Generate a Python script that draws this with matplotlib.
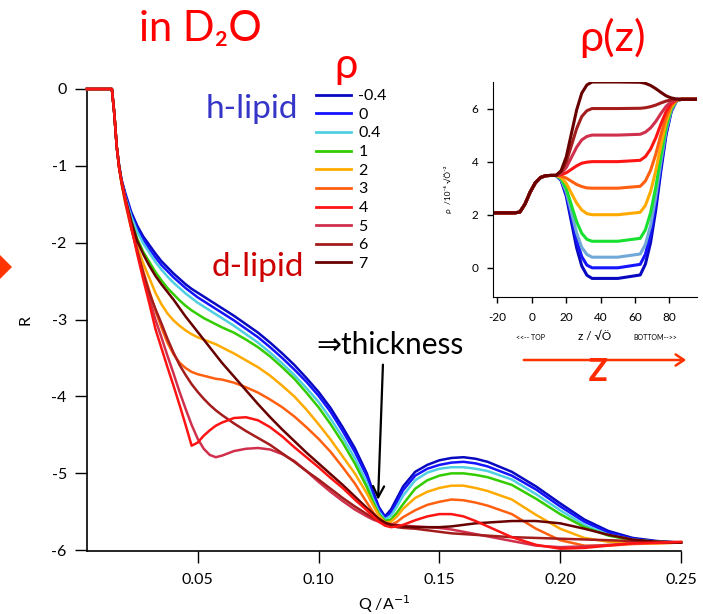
import matplotlib
matplotlib.use('Agg')
import matplotlib.pyplot as plt
from matplotlib.patches import FancyArrowPatch, Polygon

plt.rcParams['font.family'] = ['Lato', 'DejaVu Sans']
plt.rcParams['axes.unicode_minus'] = False

# ---- main panel: log10 reflectivity vs Q ----
q = [0.0042, 0.0145, 0.0155, 0.0165, 0.0175, 0.0185, 0.020, 0.0225,
     0.025, 0.0275, 0.030, 0.0325, 0.035, 0.0375, 0.040, 0.0425,
     0.045, 0.0475, 0.050, 0.0525, 0.055, 0.0575, 0.060, 0.065,
     0.070, 0.075, 0.080, 0.085, 0.090, 0.095, 0.100, 0.105,
     0.110, 0.115, 0.120, 0.1225, 0.125, 0.1275, 0.130, 0.1325,
     0.135, 0.140, 0.145, 0.150, 0.155, 0.160, 0.165, 0.170,
     0.180, 0.190, 0.200, 0.210, 0.220, 0.230, 0.240, 0.250]

r_m04 = [0, 0, -0.32, -0.75, -1.00, -1.18, -1.35, -1.60,
         -1.78, -1.92, -2.03, -2.14, -2.24, -2.32, -2.40, -2.47,
         -2.54, -2.60, -2.65, -2.70, -2.75, -2.80, -2.85, -2.95,
         -3.06, -3.17, -3.30, -3.44, -3.59, -3.76, -3.94, -4.15,
         -4.40, -4.67, -5.00, -5.23, -5.44, -5.56, -5.47, -5.32,
         -5.17, -4.98, -4.89, -4.83, -4.80, -4.79, -4.81, -4.85,
         -4.98, -5.17, -5.39, -5.60, -5.75, -5.84, -5.88, -5.90]
r_0 = [0, 0, -0.32, -0.75, -1.00, -1.19, -1.37, -1.63,
       -1.82, -1.96, -2.08, -2.19, -2.29, -2.37, -2.45, -2.52,
       -2.59, -2.65, -2.71, -2.76, -2.81, -2.86, -2.91, -3.01,
       -3.12, -3.23, -3.36, -3.50, -3.65, -3.81, -3.99, -4.20,
       -4.45, -4.72, -5.04, -5.26, -5.46, -5.58, -5.51, -5.37,
       -5.22, -5.03, -4.94, -4.89, -4.86, -4.85, -4.87, -4.91,
       -5.03, -5.21, -5.43, -5.63, -5.77, -5.85, -5.89, -5.90]
r_04 = [0, 0, -0.32, -0.75, -1.01, -1.20, -1.40, -1.66,
        -1.86, -2.01, -2.13, -2.25, -2.35, -2.44, -2.52, -2.59,
        -2.66, -2.72, -2.78, -2.83, -2.88, -2.93, -2.98, -3.08,
        -3.19, -3.30, -3.43, -3.57, -3.72, -3.89, -4.07, -4.29,
        -4.53, -4.80, -5.12, -5.33, -5.50, -5.60, -5.55, -5.43,
        -5.29, -5.09, -4.99, -4.94, -4.92, -4.92, -4.94, -4.97,
        -5.08, -5.27, -5.48, -5.67, -5.80, -5.86, -5.89, -5.90]
r_1 = [0, 0, -0.32, -0.75, -1.02, -1.22, -1.43, -1.72,
       -1.95, -2.12, -2.25, -2.38, -2.49, -2.59, -2.67, -2.75,
       -2.82, -2.88, -2.93, -2.98, -3.02, -3.06, -3.10, -3.17,
       -3.26, -3.36, -3.48, -3.62, -3.77, -3.95, -4.14, -4.36,
       -4.60, -4.87, -5.18, -5.37, -5.53, -5.62, -5.60, -5.51,
       -5.40, -5.20, -5.09, -5.03, -5.00, -5.00, -5.02, -5.05,
       -5.15, -5.33, -5.53, -5.70, -5.81, -5.87, -5.89, -5.90]
r_2 = [0, 0, -0.32, -0.75, -1.02, -1.23, -1.46, -1.80,
       -2.05, -2.27, -2.46, -2.65, -2.80, -2.92, -3.01, -3.08,
       -3.14, -3.19, -3.23, -3.26, -3.29, -3.32, -3.36, -3.44,
       -3.53, -3.62, -3.73, -3.86, -4.00, -4.17, -4.36, -4.56,
       -4.78, -5.00, -5.26, -5.41, -5.55, -5.64, -5.63, -5.56,
       -5.46, -5.32, -5.24, -5.19, -5.16, -5.16, -5.19, -5.23,
       -5.34, -5.54, -5.72, -5.84, -5.89, -5.91, -5.91, -5.90]
r_3 = [0, 0, -0.32, -0.75, -1.02, -1.23, -1.48, -1.82,
       -2.10, -2.37, -2.63, -2.88, -3.10, -3.30, -3.45, -3.56,
       -3.63, -3.68, -3.71, -3.73, -3.75, -3.77, -3.78, -3.82,
       -3.88, -3.95, -4.04, -4.14, -4.26, -4.40, -4.55, -4.72,
       -4.92, -5.13, -5.38, -5.50, -5.61, -5.67, -5.67, -5.63,
       -5.57, -5.48, -5.41, -5.37, -5.34, -5.35, -5.38, -5.42,
       -5.53, -5.72, -5.87, -5.94, -5.94, -5.92, -5.91, -5.90]
r_4 = [0, 0, -0.32, -0.75, -1.03, -1.20, -1.43, -1.79,
       -2.15, -2.48, -2.79, -3.12, -3.37, -3.62, -3.86, -4.11,
       -4.37, -4.64, -4.60, -4.51, -4.44, -4.38, -4.34, -4.28,
       -4.27, -4.31, -4.40, -4.52, -4.66, -4.79, -4.92, -5.06,
       -5.19, -5.34, -5.48, -5.56, -5.63, -5.68, -5.70, -5.69,
       -5.67, -5.61, -5.56, -5.53, -5.53, -5.56, -5.62, -5.69,
       -5.83, -5.93, -5.98, -5.97, -5.94, -5.91, -5.90, -5.89]
r_5 = [0, 0, -0.32, -0.75, -1.03, -1.20, -1.42, -1.76,
       -2.10, -2.42, -2.72, -3.00, -3.23, -3.47, -3.70, -3.94,
       -4.16, -4.37, -4.55, -4.68, -4.76, -4.79, -4.77, -4.71,
       -4.68, -4.67, -4.69, -4.75, -4.84, -4.97, -5.11, -5.24,
       -5.36, -5.47, -5.56, -5.60, -5.63, -5.65, -5.66, -5.67,
       -5.68, -5.69, -5.70, -5.71, -5.73, -5.76, -5.79, -5.82,
       -5.88, -5.94, -5.96, -5.95, -5.93, -5.91, -5.90, -5.90]
r_6 = [0, 0, -0.32, -0.75, -1.02, -1.21, -1.45, -1.80,
       -2.12, -2.40, -2.65, -2.86, -3.05, -3.25, -3.43, -3.59,
       -3.72, -3.84, -3.94, -4.03, -4.11, -4.18, -4.24, -4.35,
       -4.45, -4.54, -4.63, -4.74, -4.85, -4.97, -5.08, -5.20,
       -5.32, -5.43, -5.53, -5.58, -5.62, -5.66, -5.68, -5.70,
       -5.71, -5.72, -5.74, -5.76, -5.78, -5.79, -5.80, -5.81,
       -5.83, -5.84, -5.85, -5.86, -5.87, -5.88, -5.89, -5.90]
r_7 = [0, 0, -0.32, -0.75, -1.01, -1.20, -1.42, -1.72,
       -1.98, -2.15, -2.30, -2.43, -2.54, -2.64, -2.74, -2.85,
       -2.96, -3.06, -3.16, -3.26, -3.36, -3.46, -3.56, -3.74,
       -3.92, -4.10, -4.27, -4.43, -4.58, -4.73, -4.87, -5.01,
       -5.15, -5.30, -5.45, -5.52, -5.59, -5.64, -5.67, -5.68,
       -5.69, -5.70, -5.70, -5.70, -5.69, -5.67, -5.65, -5.64,
       -5.62, -5.62, -5.65, -5.72, -5.80, -5.86, -5.89, -5.90]

rho_labels = ['-0.4', '0', '0.4', '1', '2', '3', '4', '5', '6', '7']
main_curves = [r_m04, r_0, r_04, r_1, r_2, r_3, r_4, r_5, r_6, r_7]
main_colors = ['#0808c0', '#1414ff', '#50cfe0', '#33cc00', '#ffaa00',
               '#ff6010', '#ff1414', '#d0304c', '#a41c1c', '#680000']
inset_colors = ['#0808c0', '#1414ff', '#70a8d8', '#18e030', '#ffaa00',
                '#ff6010', '#ff1414', '#d0304c', '#a41c1c', '#680000']

# ---- inset: SLD profiles rho(z) ----
z = [-22.6, -10, -7, -4, -1, 2, 5, 8, 11, 14,
     17, 20, 23, 26, 29, 32, 35, 50,
     63, 66, 69, 72, 75, 78, 81, 84, 87, 96]
base = [2.07, 2.07, 2.10, 2.40, 2.85, 3.20, 3.40, 3.47, 3.48, 3.48]
p_m04 = base + [3.29, 2.70, 1.73, 0.76, 0.07, -0.28, -0.40, -0.40,
                -0.27, 0.14, 0.95, 2.17, 3.65, 5.00, 5.88, 6.28, 6.35, 6.35]
p_0 = base + [3.31, 2.78, 1.91, 1.04, 0.42, 0.10, 0.00, 0.00,
              0.13, 0.51, 1.27, 2.41, 3.81, 5.08, 5.91, 6.29, 6.35, 6.35]
p_04 = base + [3.33, 2.86, 2.09, 1.32, 0.77, 0.50, 0.40, 0.40,
               0.52, 0.88, 1.59, 2.66, 3.97, 5.16, 5.93, 6.29, 6.35, 6.35]
p_1 = base + [3.36, 2.98, 2.36, 1.74, 1.30, 1.07, 1.00, 1.00,
              1.11, 1.43, 2.07, 3.03, 4.21, 5.28, 5.98, 6.30, 6.35, 6.35]
p_2 = base + [3.41, 3.18, 2.81, 2.44, 2.18, 2.04, 2.00, 2.00,
              2.09, 2.35, 2.87, 3.65, 4.61, 5.48, 6.05, 6.31, 6.35, 6.35]
p_3 = base + [3.46, 3.38, 3.26, 3.14, 3.06, 3.01, 3.00, 3.00,
              3.07, 3.27, 3.67, 4.27, 5.01, 5.68, 6.12, 6.32, 6.35, 6.35]
p_4 = base + [3.51, 3.58, 3.71, 3.84, 3.94, 3.98, 4.00, 4.00,
              4.05, 4.19, 4.47, 4.89, 5.41, 5.88, 6.19, 6.33, 6.35, 6.35]
p_5 = base + [3.56, 3.78, 4.16, 4.54, 4.82, 4.95, 5.00, 5.00,
              5.03, 5.11, 5.27, 5.51, 5.81, 6.08, 6.26, 6.34, 6.35, 6.35]
p_6 = base + [3.61, 3.98, 4.61, 5.24, 5.70, 5.92, 6.00, 6.00,
              6.01, 6.03, 6.07, 6.13, 6.21, 6.28, 6.33, 6.35, 6.35, 6.35]
p_7 = base + [3.66, 4.18, 5.06, 5.94, 6.58, 6.89, 7.00, 7.00,
              6.99, 6.95, 6.87, 6.75, 6.61, 6.48, 6.40, 6.36, 6.35, 6.35]
profiles = [p_m04, p_0, p_04, p_1, p_2, p_3, p_4, p_5, p_6, p_7]

W, H = 703, 614


def fx(px):
    return px / W


def fy(py):
    return 1 - py / H


fig = plt.figure(figsize=(W / 100, H / 100), dpi=100)

# main axes
ax = fig.add_axes([fx(87), fy(551), (681 - 87) / W, (551 - 89) / H])
lines = []
for r, c, lab in zip(main_curves, main_colors, rho_labels):
    zo = 5 if lab == '4' else 3
    ln, = ax.plot(q, r, color=c, lw=1.8, label=lab, zorder=zo,
                  clip_on=False, solid_joinstyle='round')
    lines.append(ln)

ax.set_xlim(0.0042, 0.25)
ax.set_ylim(-6.01, 0)
ax.set_xticks([0.05, 0.10, 0.15, 0.20, 0.25])
ax.set_xticklabels(['0.05', '0.10', '0.15', '0.20', '0.25'])
ax.set_yticks([0, -1, -2, -3, -4, -5, -6])
for s in ['top', 'right']:
    ax.spines[s].set_visible(False)
for s in ['left', 'bottom']:
    ax.spines[s].set_linewidth(1.2)
ax.tick_params(direction='out', length=8.5, width=1, labelsize=11.5)
ax.tick_params(axis='x', pad=7)
ax.tick_params(axis='y', pad=6)
ax.set_xlabel('Q /A$^{-1}$', fontsize=11.5, labelpad=5)
ax.set_ylabel('R', fontsize=11.5, labelpad=14)

leg = ax.legend(handles=lines, loc='upper left', bbox_to_anchor=(fx(316), fy(89)),
                bbox_transform=fig.transFigure, frameon=False, fontsize=11.5,
                handlelength=2.2, handletextpad=0.45, labelspacing=0.28,
                borderpad=0, borderaxespad=0)
for h in leg.legend_handles:
    h.set_linewidth(2)

# black arrow to first minimum
ax.annotate('', xy=(0.1246, -5.38), xytext=(0.1267, -3.55),
            arrowprops=dict(arrowstyle='->,head_length=0.8,head_width=0.4',
                            lw=1.6, color='black'))

# inset
ax2 = fig.add_axes([fx(493), fy(297), (697 - 493) / W, (297 - 82) / H])
for p, c in zip(profiles, inset_colors):
    ax2.plot(z, p, color=c, lw=2.2, solid_joinstyle='round')
ax2.set_xlim(-22.6, 96)
ax2.set_ylim(-1.1, 7.0)
ax2.set_xticks([-20, 0, 20, 40, 60, 80])
ax2.set_yticks([0, 2, 4, 6])
for s in ['top', 'right']:
    ax2.spines[s].set_visible(False)
ax2.tick_params(direction='out', length=4.5, width=1, labelsize=8.5, pad=6)
ax2.set_ylabel('ρ  /10⁻⁶ √Ö⁻²', fontsize=6, labelpad=14)
ax2.set_xlabel('z / √Ö', fontsize=8.5, labelpad=6)
fig.text(fx(531), fy(337), '<<-- TOP', fontsize=5, ha='center', va='center')
fig.text(fx(655), fy(337), 'BOTTOM-->>', fontsize=5, ha='center', va='center')

# titles and annotations
fig.text(fx(200), fy(41), 'in D₂O', color='#ff0000', fontsize=30,
         ha='center', va='baseline')
fig.text(fx(346), fy(66), 'ρ', color='#ff0000', fontsize=30,
         ha='center', va='center')
fig.text(fx(298), fy(118), 'h-lipid', color='#3535c8', fontsize=24,
         ha='right', va='baseline')
fig.text(fx(304), fy(276), 'd-lipid', color='#cc0000', fontsize=24,
         ha='right', va='baseline')
fig.text(fx(316), fy(354), '⇒thickness', color='black', fontsize=21.5,
         ha='left', va='baseline')
fig.text(fx(612), fy(51), 'ρ(z)', color='#ff0000', fontsize=31,
         ha='center', va='baseline')
fig.text(fx(598), fy(381), 'z', color='#ff2a00', fontsize=32,
         fontweight='semibold', ha='center', va='baseline')

fig.add_artist(FancyArrowPatch((fx(521), fy(360)), (fx(689), fy(360)),
                               transform=fig.transFigure,
                               arrowstyle='->,head_length=6,head_width=4',
                               color='#ff3300', lw=1.8))
fig.add_artist(Polygon([(fx(0), fy(255)), (fx(12), fy(267)), (fx(0), fy(279))],
                       closed=True, transform=fig.transFigure,
                       color='#ff3300', lw=0))

fig.savefig('out.png', dpi=100)
